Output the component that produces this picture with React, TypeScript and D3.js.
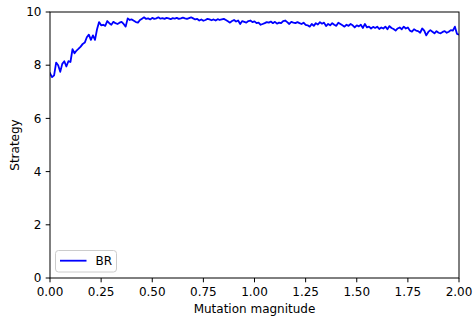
import React from "react";
import * as d3 from "d3";

const xStep = 0.01;
const strategyBR: number[] = [
  7.70, 7.55, 7.62, 8.10, 8.00, 7.75, 8.05, 8.15, 7.95, 8.15,
  8.12, 8.60, 8.45, 8.55, 8.62, 8.70, 8.80, 8.85, 9.05, 9.15,
  8.95, 9.12, 8.95, 9.35, 9.62, 9.50, 9.52, 9.48, 9.66, 9.58,
  9.52, 9.63, 9.58, 9.55, 9.60, 9.63, 9.55, 9.45, 9.76, 9.70,
  9.72, 9.67, 9.62, 9.60, 9.70, 9.75, 9.80, 9.74, 9.76, 9.72,
  9.78, 9.74, 9.76, 9.80, 9.75, 9.77, 9.74, 9.78, 9.76, 9.73,
  9.77, 9.75, 9.78, 9.74, 9.76, 9.79, 9.76, 9.74, 9.77, 9.80,
  9.76, 9.72, 9.74, 9.68, 9.72, 9.67, 9.70, 9.74, 9.72, 9.69,
  9.72, 9.68, 9.73, 9.70, 9.72, 9.74, 9.70, 9.65, 9.60, 9.66,
  9.70, 9.64, 9.68, 9.55, 9.66, 9.63, 9.60, 9.66, 9.68, 9.62,
  9.65, 9.58, 9.60, 9.52, 9.55, 9.58, 9.62, 9.60, 9.64, 9.58,
  9.63, 9.56, 9.60, 9.58, 9.66, 9.68, 9.62, 9.55, 9.63, 9.60,
  9.58, 9.62, 9.58, 9.55, 9.60, 9.52, 9.50, 9.45, 9.55, 9.48,
  9.58, 9.53, 9.62, 9.56, 9.60, 9.47, 9.55, 9.50, 9.58, 9.52,
  9.48, 9.60, 9.55, 9.50, 9.45, 9.52, 9.48, 9.55, 9.50, 9.42,
  9.50, 9.46, 9.52, 9.40, 9.55, 9.42, 9.45, 9.38, 9.44, 9.40,
  9.45, 9.36, 9.42, 9.38, 9.45, 9.35, 9.47, 9.40, 9.36, 9.30,
  9.38, 9.42, 9.35, 9.45, 9.38, 9.42, 9.30, 9.26, 9.35, 9.30,
  9.28, 9.22, 9.38, 9.30, 9.12, 9.25, 9.32, 9.26, 9.20, 9.28,
  9.22, 9.20, 9.25, 9.28, 9.22, 9.26, 9.32, 9.30, 9.45, 9.18,
  9.15,
];
const xTicks = [0, 0.25, 0.5, 0.75, 1.0, 1.25, 1.5, 1.75, 2.0];
const yTicks = [0, 2, 4, 6, 8, 10];
const seriesName = "BR";
const xLabel = "Mutation magnitude";
const yLabel = "Strategy";

const W = 473;
const H = 316;
const m = { left: 50, right: 459, top: 12, bottom: 278 };
const font = "DejaVu Sans, sans-serif";

export default function App() {
  const x = d3.scaleLinear().domain([0, 2]).range([m.left, m.right]);
  const y = d3.scaleLinear().domain([0, 10]).range([m.bottom, m.top]);
  const pts: [number, number][] = strategyBR.map((v, i) => [i * xStep, v]);
  const line = d3
    .line<[number, number]>()
    .x((d) => x(d[0]))
    .y((d) => y(d[1]));

  return (
    <svg
      width={W}
      height={H}
      style={{ position: "absolute", left: 0, top: 0, background: "#fff" }}
      fontFamily={font}
    >
      <rect x={0} y={0} width={W} height={H} fill="#fff" />
      <defs>
        <clipPath id="plot">
          <rect x={m.left} y={m.top} width={m.right - m.left} height={m.bottom - m.top} />
        </clipPath>
      </defs>
      <path
        d={line(pts) || ""}
        fill="none"
        stroke="#0000ff"
        strokeWidth={1.8}
        strokeLinejoin="round"
        strokeLinecap="square"
        clipPath="url(#plot)"
      />
      {/* spines */}
      <rect
        x={m.left}
        y={m.top}
        width={m.right - m.left}
        height={m.bottom - m.top}
        fill="none"
        stroke="#000"
        strokeWidth={1}
      />
      {/* x ticks */}
      {xTicks.map((t) => (
        <g key={"x" + t}>
          <line x1={x(t)} x2={x(t)} y1={m.bottom} y2={m.bottom + 4.3} stroke="#000" strokeWidth={1} />
          <text x={x(t)} y={m.bottom + 18} textAnchor="middle" fontSize={12} fill="#000">
            {t.toFixed(2)}
          </text>
        </g>
      ))}
      {/* y ticks */}
      {yTicks.map((t) => (
        <g key={"y" + t}>
          <line x1={m.left - 4.3} x2={m.left} y1={y(t)} y2={y(t)} stroke="#000" strokeWidth={1} />
          <text
            x={m.left - 8.5}
            y={y(t)}
            dy="0.35em"
            textAnchor="end"
            fontSize={12}
            fill="#000"
          >
            {t}
          </text>
        </g>
      ))}
      <text
        x={(m.left + m.right) / 2}
        y={313}
        textAnchor="middle"
        fontSize={12}
        fill="#000"
      >
        {xLabel}
      </text>
      <text
        transform={`translate(19,${(m.top + m.bottom) / 2}) rotate(-90)`}
        textAnchor="middle"
        fontSize={12}
        fill="#000"
      >
        {yLabel}
      </text>
      {/* legend */}
      <g>
        <rect
          x={55.5}
          y={250.5}
          width={61}
          height={21.5}
          rx={3}
          fill="#fff"
          fillOpacity={0.8}
          stroke="#ccc"
          strokeWidth={1}
        />
        <line x1={60} x2={86.5} y1={260.7} y2={260.7} stroke="#0000ff" strokeWidth={1.8} />
        <text x={95.5} y={265} fontSize={12} fill="#000">
          {seriesName}
        </text>
      </g>
    </svg>
  );
}
